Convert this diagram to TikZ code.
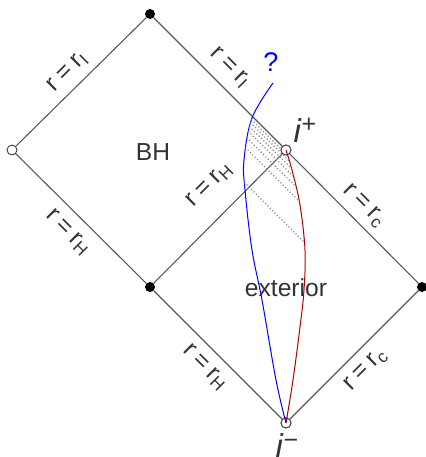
\documentclass[tikz,border=0pt]{standalone}
\usepackage{fontspec}
\setmainfont{Liberation Sans}
\usetikzlibrary{intersections}
\newcommand{\rlab}[1]{r\hspace{0.22em}=\hspace{0.22em}r\textsubscript{#1}}
\begin{document}
\begin{tikzpicture}[x=0.5pt,y=-0.5pt,
  edge/.style={draw=black!65, line width=0.55pt},
  fdot/.style={circle, fill=black, inner sep=0pt, minimum size=5pt},
  odot/.style={circle, draw=black!75, fill=white, inner sep=0pt, minimum size=5pt, line width=0.45pt},
  lbl/.style={font=\fontsize{12.3}{14}\selectfont, text=black!80, inner sep=0pt},
  dotline/.style={draw=black!50, line width=0.55pt, dash pattern=on 0.55pt off 1.1pt},
  bluecurve/.style={draw=blue, line width=0.5pt},
  redcurve/.style={draw=red!70!black, line width=0.5pt}
]
\useasboundingbox (0,0) rectangle (426,457);
% vertices
\node[fdot] (T) at (150,14) {};
\node[odot] (L) at (12,150) {};
\node[fdot] (M) at (150,287) {};
\node[odot] (ip) at (286,150) {};
\node[fdot] (R) at (422,287) {};
\node[odot] (im) at (286,423) {};
% edges
\draw[edge] (L) -- (T);
\draw[edge] (T) -- (ip);
\draw[edge] (L) -- (M);
\draw[edge] (M) -- (ip);
\draw[edge] (ip) -- (R);
\draw[edge] (M) -- (im);
\draw[edge] (R) -- (im);
% curves
\draw[bluecurve, name path=bluec] plot[smooth, tension=0.6] coordinates {(im.center) (276,380) (262,300) (252,250) (245,190) (244,160) (252,118) (273,83)};
\draw[redcurve, name path=redc] plot[smooth, tension=0.6] coordinates {(ip.center) (292,170) (300,205) (305,250) (304,290) (300,327) (293,380) (im.center)};
% dotted rays
\foreach \c [count=\k] in {-132,-128,-123,-117,-109,-98,-62}{
  \path[name path=dl\k x] (200,{200+\c}) -- (340,{340+\c});
  \path[name intersections={of=dl\k x and bluec, by={b\k x}}];
  \path[name intersections={of=dl\k x and redc, by={r\k x}}];
  \draw[dotline] (b\k x) -- (r\k x);
}
% redraw circles on top
\node[odot] (ipc) at (ip) {};
\node[odot] (imc) at (im) {};
\draw[redcurve] (ipc.center) -- ++(1.5,5);
\draw[redcurve] (imc.center) -- ++(1.2,-6);
\draw[bluecurve] (imc.center) -- ++(-1.3,-6);
% labels
\node[lbl, rotate=45] (a1) at (68,72) {\rlab{I}};
\node[lbl, rotate=-45] (a2) at (230,68) {\rlab{I}};
\node[lbl, rotate=-45] (a3) at (68,233) {\rlab{H}};
\node[lbl, rotate=45] (a4) at (210,185) {\rlab{H}};
\node[lbl, rotate=-45] (a5) at (364,206) {\rlab{c}};
\node[lbl, rotate=-45] (a6) at (205,368) {\rlab{H}};
\node[lbl, rotate=45] (a7) at (366,370) {\rlab{c}};
\node[lbl] (bh) at (153,152) {BH};
\node[lbl] (ext) at (286,288) {exterior};
\node[lbl, text=blue, font=\fontsize{13.5}{15}\selectfont] (q) at (271,62) {?};
\node[lbl, font=\fontsize{16.5}{18}\selectfont] (iplab) at (305,130) {\textit{i}\raisebox{0.3em}{\fontsize{12.5}{12}\selectfont +}};
\node[lbl, font=\fontsize{16.5}{18}\selectfont] (imlab) at (287,446) {\textit{i}\raisebox{0.3em}{\fontsize{12.5}{12}\selectfont −}};
\end{tikzpicture}
\end{document}
